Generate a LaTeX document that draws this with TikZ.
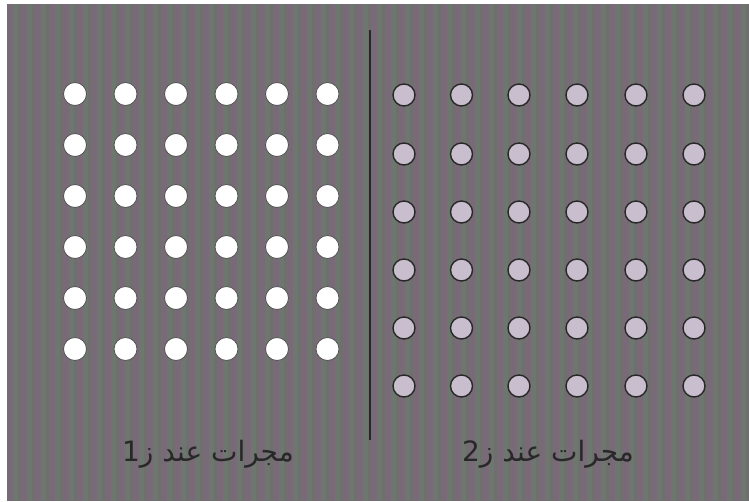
\documentclass[tikz,border=0pt]{standalone}
\usepackage{fontspec}
\newfontfamily\arabicfont[Script=Arabic]{DejaVu Sans}
\TeXXeTstate=1
\definecolor{bgc}{RGB}{112,110,110}
\definecolor{stripeA}{RGB}{145,100,145}
\definecolor{stripeB}{RGB}{100,140,110}
\definecolor{lavender}{RGB}{200,190,205}
\definecolor{ink}{RGB}{40,40,40}
\tikzset{
  bg/.style={fill=bgc},
  stripeP/.style={fill=stripeA, opacity=0.3},
  stripeG/.style={fill=stripeB, opacity=0.3},
  whitedot/.style={fill=white, draw=ink!80, line width=0.8pt},
  greydot/.style={fill=lavender, draw=ink, line width=1.4pt},
  divider/.style={draw=ink, line width=1.4pt},
  lbl/.style={text=ink, font=\arabicfont\fontsize{28}{32}\selectfont, inner sep=0pt}
}
\begin{document}
\begin{tikzpicture}[x=1pt,y=-1pt]
\useasboundingbox (0,0) rectangle (749,501);
\fill[white] (0,0) rectangle (749,501);
\fill[bg] (7,4) rectangle (749,501);
\begin{scope}
\clip (7,4) rectangle (749,501);
\foreach \i in {0,...,53} {
  \fill[stripeP] ({7+\i*14},4) rectangle ({13+\i*14},501);
  \fill[stripeG] ({13+\i*14},4) rectangle ({18+\i*14},501);
}
\end{scope}
% left grid
\foreach \x in {75,125.5,176,226.5,277,327.5} {
  \foreach \y in {94,145,196,247,298,349} {
    \draw[whitedot] (\x,\y) circle (11.5);
  }
}
% right grid
\foreach \x in {404,461.5,519,577,636,694} {
  \foreach \y in {95,154,212,270,328,386} {
    \draw[greydot] (\x,\y) circle (11);
  }
}
\coordinate (top) at (370,30);
\coordinate (bot) at (370,440);
\draw[divider] (top) -- (bot);
\node[lbl] (l1) at (208,454) {\beginR مجرات عند ز1\endR};
\node[lbl] (l2) at (548,454) {\beginR مجرات عند ز2\endR};
\end{tikzpicture}
\end{document}
